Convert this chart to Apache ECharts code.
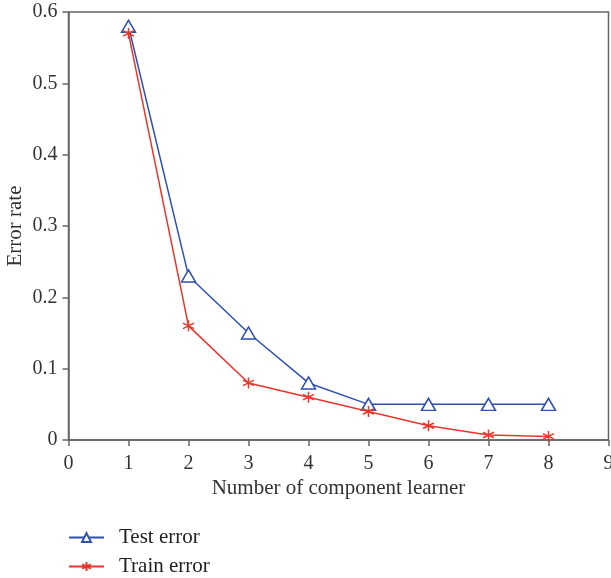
<!DOCTYPE html>
<html>
<head>
<meta charset="utf-8">
<script src="https://cdn.jsdelivr.net/npm/echarts@6/dist/echarts.min.js"></script>
<style>
  html, body { margin: 0; padding: 0; background: #fff; }
  #main { width: 611px; height: 578px; }
</style>
</head>
<body>
<div id="main"></div>
<script>
// values
var learners = [1, 2, 3, 4, 5, 6, 7, 8];
var testError = [0.58, 0.23, 0.15, 0.08, 0.05, 0.05, 0.05, 0.05];
var trainError = [0.57, 0.16, 0.08, 0.06, 0.04, 0.02, 0.007, 0.005];

var font = "Liberation Serif";
var axisGrey = "#666";

function pairs(xs, ys) {
  return xs.map(function (x, i) { return [x, ys[i]]; });
}

var chart = echarts.init(document.getElementById("main"));

var option = {
  animation: false,
  textStyle: { fontFamily: font },
  grid: {
    left: 68.5,
    right: 2.5,
    top: 12,
    bottom: 138,
    outerBoundsMode: "none",
    containLabel: false,
    show: true,
    borderColor: axisGrey,
    borderWidth: 1.5
  },
  legend: {
    orient: "vertical",
    left: 68,
    top: 527,
    padding: 0,
    itemWidth: 35,
    itemHeight: 11,
    itemGap: 8,
    textStyle: { fontFamily: font, fontSize: 21, color: "#222", padding: [0, 0, 0, 10] },
    data: ["Test error", "Train error"]
  },
  xAxis: {
    type: "value",
    min: 0,
    max: 9,
    interval: 1,
    name: "Number of component learner",
    nameLocation: "middle",
    nameGap: 38,
    nameMoveOverlap: false,
    nameTextStyle: { fontFamily: font, fontSize: 21, color: "#333" },
    axisLine: { lineStyle: { color: axisGrey, width: 1.5 } },
    axisTick: { inside: false, length: 6, lineStyle: { color: axisGrey, width: 1.5 } },
    axisLabel: { fontFamily: font, fontSize: 20, color: "#333", margin: 14 },
    splitLine: { show: false }
  },
  yAxis: {
    type: "value",
    min: 0,
    max: 0.6,
    interval: 0.1,
    name: "Error rate",
    nameLocation: "middle",
    nameGap: 43,
    nameMoveOverlap: false,
    nameTextStyle: { fontFamily: font, fontSize: 21, color: "#333" },
    axisLine: { show: true, lineStyle: { color: axisGrey, width: 1.5 } },
    axisTick: { show: true, length: 6, lineStyle: { color: axisGrey, width: 1.5 } },
    axisLabel: { fontFamily: font, fontSize: 20, color: "#333", margin: 11 },
    splitLine: { show: false }
  },
  series: [
    {
      name: "Test error",
      type: "line",
      data: pairs(learners, testError),
      symbol: "triangle",
      symbolSize: [14, 12],
      showAllSymbol: true,
      lineStyle: { color: "#2f4fb3", width: 1.5 },
      itemStyle: { color: "#fff", borderColor: "#2f4fb3", borderWidth: 1.5 },
      z: 2
    },
    {
      name: "Train error",
      type: "line",
      data: pairs(learners, trainError),
      symbol: "path://M0,-10L0,10M-8.66,-5L8.66,5M-8.66,5L8.66,-5",
      symbolSize: 11,
      showAllSymbol: true,
      lineStyle: { color: "#e8362b", width: 1.5 },
      itemStyle: { color: "#e8362b", borderColor: "#e8362b", borderWidth: 1.5 },
      z: 3
    }
  ]
};

chart.setOption(option);
</script>
</body>
</html>
